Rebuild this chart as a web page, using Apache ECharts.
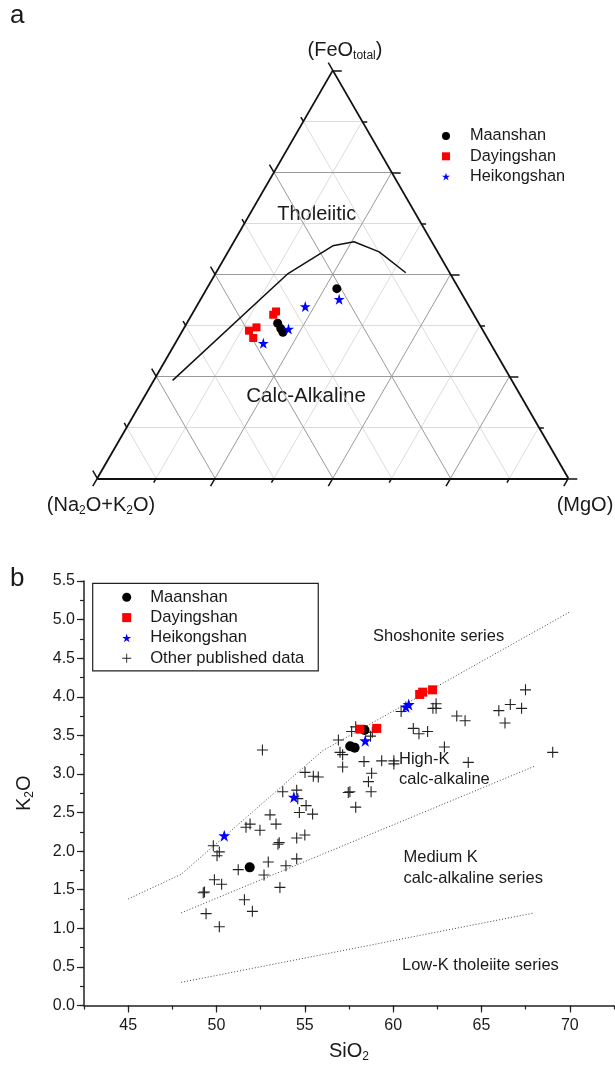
<!DOCTYPE html>
<html>
<head>
<meta charset="utf-8">
<script src="https://cdn.jsdelivr.net/npm/echarts@6/dist/echarts.min.js"></script>
<style>
  html, body { margin: 0; padding: 0; background: #fff; }
  #chart { width: 615px; height: 1066px; }
</style>
</head>
<body>
<div id="chart"></div>
<script>
// AFM ternary data, each point is [Na2O+K2O, FeOtotal, MgO] in %
const afmMaanshan = [[25.9, 46.5, 27.6], [42.7, 38.0, 19.3], [42.7, 36.7, 20.6], [42.7, 35.8, 21.5]];
const afmDayingshan = [[42.6, 40.1, 17.3], [41.6, 40.9, 17.5], [49.7, 36.2, 14.1], [47.7, 37.0, 15.3], [49.7, 34.4, 15.9]];
const afmHeikongshan = [[26.7, 43.9, 29.4], [34.8, 42.1, 23.1], [41.1, 36.6, 22.3], [48.2, 33.1, 18.7]];
const afmBoundary = [[72.0, 24.0, 4.0], [34.4, 50.2, 15.4], [21.5, 57.0, 21.5], [16.5, 58.0, 25.5], [12.4, 55.5, 32.1], [9.3, 50.4, 40.3]];
const ternaryTicks = [0, 12.5, 25, 37.5, 50, 62.5, 75, 87.5, 100];

// SiO2 vs K2O data, [SiO2, K2O]
const sio2Ticks = [45, 50, 55, 60, 65, 70];
const k2oTicks = [0, 0.5, 1, 1.5, 2, 2.5, 3, 3.5, 4, 4.5, 5, 5.5];
const maanshan = [[51.88, 1.79], [57.57, 3.36], [57.82, 3.34], [58.38, 3.57]];
const dayingshan = [[58.12, 3.58], [59.07, 3.59], [61.5, 4.03], [61.67, 4.06], [62.23, 4.09]];
const heikongshan = [[50.44, 2.2], [54.38, 2.7], [58.42, 3.43], [60.72, 3.87], [60.88, 3.9]];
const otherData = [
  [53.75, 2.77], [54.54, 2.79], [54.6, 2.68], [55.07, 2.59], [54.69, 2.5], [55.44, 2.48], [53.03, 2.47],
  [53.37, 2.35], [51.9, 2.35], [51.67, 2.31], [52.46, 2.27], [54.54, 2.17], [55.0, 2.21], [53.48, 2.09],
  [53.55, 2.11], [49.82, 2.07], [50.16, 1.99], [50.03, 1.94], [52.93, 1.86], [51.23, 1.76], [53.93, 1.81],
  [54.54, 1.9], [52.69, 1.69], [49.88, 1.63], [50.29, 1.57], [49.25, 1.46], [49.32, 1.47], [53.59, 1.53],
  [51.58, 1.37], [49.41, 1.19], [52.03, 1.22], [50.16, 1.02], [52.6, 3.31],
  [55.01, 3.02], [55.48, 2.97], [55.76, 2.96], [56.9, 3.44], [56.99, 3.28], [57.14, 3.25], [57.14, 3.09],
  [57.46, 2.76], [57.55, 2.77], [57.88, 2.57], [57.88, 3.61], [57.65, 3.55], [58.35, 3.16], [58.78, 3.01],
  [58.6, 2.9], [58.75, 2.77], [58.72, 3.49], [58.82, 3.54], [59.35, 3.17], [60.04, 3.17], [60.04, 3.13],
  [61.14, 3.59], [61.46, 3.52], [61.95, 3.55], [62.9, 3.35], [63.6, 3.75], [60.45, 3.81],
  [62.25, 3.85], [62.43, 3.91], [62.43, 3.85], [64.07, 3.69], [66.33, 3.66], [64.25, 3.15], [69.03, 3.28],
  [65.98, 3.82], [66.63, 3.9], [67.27, 3.85], [67.49, 4.09]
];
const lineShoshonite = [[45, 1.38], [48, 1.7], [56, 3.3], [70, 5.1]];
const lineHighK = [[48, 1.2], [68, 3.1]];
const lineLowK = [[48, 0.3], [68, 1.2]];

const STAR = 'path://M50,0L61.2,34.5L97.6,34.5L68.2,55.9L79.4,90.5L50,69.1L20.6,90.5L31.8,55.9L2.4,34.5L38.8,34.5Z';
const PLUS = 'path://M4.5,0h1v4.5h4.5v1h-4.5v4.5h-1v-4.5h-4.5v-1h4.5z';
const FONT = 'Liberation Sans';

// ternary layout: side length in px and bottom-left vertex
const S = 471, X0 = 97.3, Y0 = 478.3, PAD = 0.06, H = Math.sqrt(3) / 2;

function tern(p) {
  const t = p[0] + p[1] + p[2];
  return [(p[2] + p[1] / 2) / t, (p[1] * H) / t];
}

const gridMajor = [], gridMinor = [], tickLines = [];
ternaryTicks.forEach(v => {
  if (v > 0 && v < 100) {
    const target = v % 25 === 0 ? gridMajor : gridMinor;
    target.push({ coords: [tern([100 - v, v, 0]), tern([0, v, 100 - v])] });
    target.push({ coords: [tern([100 - v, 0, v]), tern([0, 100 - v, v])] });
    target.push({ coords: [tern([v, 100 - v, 0]), tern([v, 0, 100 - v])] });
  }
  const len = (v % 25 === 0 ? 9 : 5) / S;
  const b = tern([100 - v, 0, v]);
  tickLines.push({ coords: [b, [b[0] - 0.5 * len, b[1] - H * len]] });
  const r = tern([0, v, 100 - v]);
  tickLines.push({ coords: [r, [r[0] + len, r[1]]] });
  const l = tern([v, 100 - v, 0]);
  tickLines.push({ coords: [l, [l[0] - 0.5 * len, l[1] + H * len]] });
});
const triangle = [tern([100, 0, 0]), tern([0, 0, 100]), tern([0, 100, 0])];
const edges = [
  { coords: [triangle[0], triangle[1]] },
  { coords: [triangle[1], triangle[2]] },
  { coords: [triangle[2], triangle[0]] }
];

function linesSeries(data, color, width, z) {
  return {
    type: 'lines', coordinateSystem: 'cartesian2d', xAxisIndex: 0, yAxisIndex: 0,
    polyline: false, silent: true, z: z,
    lineStyle: { color: color, width: width, opacity: 1 },
    data: data
  };
}

function dottedLine(data) {
  return {
    type: 'line', xAxisIndex: 1, yAxisIndex: 1, data: data, showSymbol: false, silent: true, z: 1,
    lineStyle: { color: '#444', width: 1, type: [1, 2] }
  };
}

function label(text, x, y, size, align) {
  return {
    type: 'text', x: x, y: y, silent: true,
    style: { text: text, fontSize: size, fontFamily: FONT, fill: '#1a1a1a', align: align || 'left', verticalAlign: 'middle' }
  };
}

function subLabel(text, x, y) {
  return {
    type: 'text', x: x, y: y, silent: true,
    style: {
      text: text, align: 'center', verticalAlign: 'middle', fill: '#1a1a1a',
      rich: {
        m: { fontSize: 20, fontFamily: FONT, fill: '#1a1a1a' },
        s: { fontSize: 12, fontFamily: FONT, fill: '#1a1a1a', padding: [11, 0, 0, 0] }
      }
    }
  };
}

const nameRich = {
  m: { fontSize: 20, fontFamily: FONT, color: '#1a1a1a' },
  s: { fontSize: 12, fontFamily: FONT, color: '#1a1a1a', padding: [11, 0, 0, 0] }
};

const axisLineStyle = { color: '#222', width: 1.5 };
const tickStyle = { color: '#222', width: 1.2 };

const option = {
  animation: false,
  backgroundColor: '#fff',
  textStyle: { fontFamily: FONT },
  grid: [
    { left: X0 - PAD * S, top: Y0 - (H + PAD) * S, width: (1 + 2 * PAD) * S, height: (H + 2 * PAD) * S },
    { left: 84, top: 581, width: 530, height: 424.5 }
  ],
  xAxis: [
    { gridIndex: 0, type: 'value', min: -PAD, max: 1 + PAD, show: false },
    {
      gridIndex: 1, type: 'value', min: 42.5, max: 72.5, interval: 2.5, position: 'bottom',
      name: '{m|SiO}{s|2}', nameLocation: 'middle', nameGap: 34,
      nameTextStyle: { rich: nameRich },
      axisLine: { lineStyle: axisLineStyle },
      axisTick: { length: 4, lineStyle: tickStyle },
      axisLabel: { customValues: sio2Ticks, fontSize: 16, color: '#1a1a1a', margin: 12, fontFamily: FONT },
      splitLine: { show: false }
    },
    {
      gridIndex: 1, type: 'value', min: 42.5, max: 72.5, interval: 2.5, position: 'bottom', offset: 0,
      axisLine: { show: false },
      axisTick: { customValues: sio2Ticks, length: 7, lineStyle: tickStyle },
      axisLabel: { show: false },
      splitLine: { show: false }
    }
  ],
  yAxis: [
    { gridIndex: 0, type: 'value', min: -PAD, max: H + PAD, show: false },
    {
      gridIndex: 1, type: 'value', min: 0, max: 5.5, interval: 0.25, position: 'left',
      name: '{m|K}{s|2}{m|O}', nameLocation: 'middle', nameGap: 48, nameRotate: 90,
      nameTextStyle: { rich: nameRich },
      axisLine: { lineStyle: axisLineStyle },
      axisTick: { length: 4, lineStyle: tickStyle },
      axisLabel: {
        customValues: k2oTicks, fontSize: 16, color: '#1a1a1a', margin: 9, fontFamily: FONT,
        formatter: v => v.toFixed(1)
      },
      splitLine: { show: false }
    },
    {
      gridIndex: 1, type: 'value', min: 0, max: 5.5, interval: 0.25, position: 'left', offset: 0,
      axisLine: { show: false },
      axisTick: { customValues: k2oTicks, length: 7, lineStyle: tickStyle },
      axisLabel: { show: false },
      splitLine: { show: false }
    }
  ],
  legend: [
    {
      data: ['Maanshan', 'Dayingshan', 'Heikongshan'],
      orient: 'vertical', left: 442, top: 126, padding: 0,
      itemWidth: 8, itemHeight: 8, itemGap: 0.3, selectedMode: false,
      textStyle: { fontSize: 16.3, fontFamily: FONT, color: '#1a1a1a', lineHeight: 20, padding: [0, 0, 0, 15] }
    },
    {
      data: ['Maanshan', 'Dayingshan', 'Heikongshan', 'Other published data'],
      orient: 'vertical', left: 92.7, top: 583.3, padding: [4, 14, 2.7, 29.5],
      borderColor: '#222', borderWidth: 1.2, backgroundColor: '#fff',
      itemWidth: 9, itemHeight: 9, itemGap: 0.3, selectedMode: false,
      textStyle: { fontSize: 16.6, fontFamily: FONT, color: '#1a1a1a', lineHeight: 20, padding: [0, 0, 0, 14] }
    }
  ],
  graphic: [
    label('a', 10, 16, 26),
    label('b', 10, 579, 26),
    subLabel('{m|(FeO}{s|total}{m|)}', 345, 50),
    subLabel('{m|(Na}{s|2}{m|O+K}{s|2}{m|O)}', 101, 505),
    subLabel('{m|(MgO)}', 585, 505),
    label('Tholeiitic', 316.7, 214.3, 20, 'center'),
    label('Calc-Alkaline', 306, 396.7, 20.5, 'center'),
    label('Shoshonite series', 373, 636, 16.5),
    label('High-K', 399, 759, 16.5),
    label('calc-alkaline', 399, 779, 16.5),
    label('Medium K', 403.5, 857.7, 16.5),
    label('calc-alkaline series', 403.5, 878.3, 16.5),
    label('Low-K tholeiite series', 402, 965.3, 16.5)
  ],
  series: [
    linesSeries(gridMinor, '#dcdcdc', 1, 1),
    linesSeries(gridMajor, '#9a9a9a', 1, 2),
    linesSeries(tickLines, '#111', 1.5, 3),
    linesSeries(edges, '#111', 1.8, 3),
    {
      type: 'line', xAxisIndex: 0, yAxisIndex: 0, data: afmBoundary.map(tern),
      showSymbol: false, silent: true, z: 4, lineStyle: { color: '#111', width: 1.5 }
    },
    {
      name: 'Maanshan', type: 'scatter', xAxisIndex: 0, yAxisIndex: 0, z: 5,
      symbol: 'circle', symbolSize: 9, itemStyle: { color: '#000', opacity: 1 },
      data: afmMaanshan.map(tern)
    },
    {
      name: 'Dayingshan', type: 'scatter', xAxisIndex: 0, yAxisIndex: 0, z: 5,
      symbol: 'rect', symbolSize: 8, itemStyle: { color: '#f00', opacity: 1 },
      data: afmDayingshan.map(tern)
    },
    {
      name: 'Heikongshan', type: 'scatter', xAxisIndex: 0, yAxisIndex: 0, z: 5,
      symbol: STAR, symbolSize: 11, itemStyle: { color: '#00f', opacity: 1 },
      data: afmHeikongshan.map(tern)
    },
    dottedLine(lineShoshonite),
    dottedLine(lineHighK),
    dottedLine(lineLowK),
    {
      name: 'Other published data', type: 'scatter', xAxisIndex: 1, yAxisIndex: 1, z: 2,
      symbol: PLUS, symbolSize: 11, itemStyle: { color: '#222', opacity: 1 },
      data: otherData
    },
    {
      name: 'Maanshan', type: 'scatter', xAxisIndex: 1, yAxisIndex: 1, z: 5,
      symbol: 'circle', symbolSize: 10, itemStyle: { color: '#000', opacity: 1 },
      data: maanshan
    },
    {
      name: 'Dayingshan', type: 'scatter', xAxisIndex: 1, yAxisIndex: 1, z: 5,
      symbol: 'rect', symbolSize: 9, itemStyle: { color: '#f00', opacity: 1 },
      data: dayingshan
    },
    {
      name: 'Heikongshan', type: 'scatter', xAxisIndex: 1, yAxisIndex: 1, z: 5,
      symbol: STAR, symbolSize: 12, itemStyle: { color: '#00f', opacity: 1 },
      data: heikongshan
    }
  ]
};

const chart = echarts.init(document.getElementById('chart'), null, { renderer: 'canvas' });
chart.setOption(option);
window.addEventListener('resize', () => chart.resize());
</script>
</body>
</html>
